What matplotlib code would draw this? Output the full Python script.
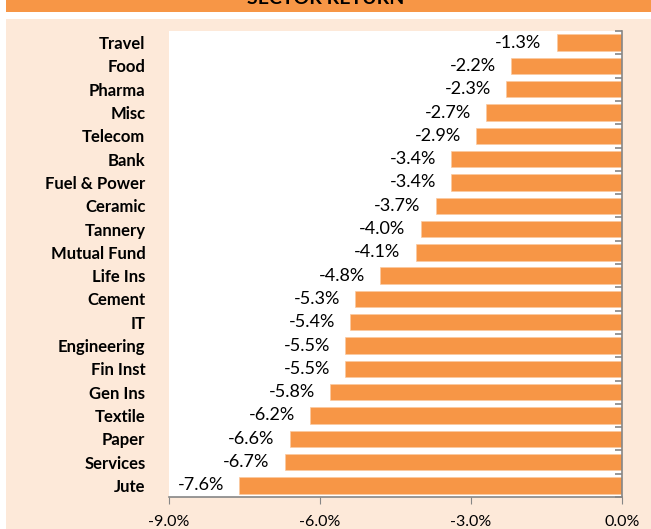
import matplotlib.pyplot as plt
from matplotlib.patches import Rectangle
from matplotlib.ticker import FuncFormatter
import numpy as np

sectors = ["Travel", "Food", "Pharma", "Misc", "Telecom", "Bank", "Fuel & Power",
           "Ceramic", "Tannery", "Mutual Fund", "Life Ins", "Cement", "IT",
           "Engineering", "Fin Inst", "Gen Ins", "Textile", "Paper", "Services", "Jute"]
returns = [-1.3, -2.2, -2.3, -2.7, -2.9, -3.4, -3.4, -3.7, -4.0, -4.1, -4.8,
           -5.3, -5.4, -5.5, -5.5, -5.8, -6.2, -6.6, -6.7, -7.6]
x_ticks = [-9, -6, -3, 0]

plt.rcParams['font.family'] = ['Lato', 'DejaVu Sans']

W, H = 651, 529
fig = plt.figure(figsize=(W / 100, H / 100), dpi=100)

# background blocks (pixel coords -> figure fraction), kept behind the axes
fig.patches.append(Rectangle((6 / W, 0), 1, 1 - 19 / H, transform=fig.transFigure,
                             facecolor='#FDE9D9', edgecolor='none', zorder=-10))
fig.patches.append(Rectangle((6 / W, 1 - 12 / H), 1, 12 / H, transform=fig.transFigure,
                             facecolor='#F79646', edgecolor='none', zorder=-10))
# title sits mostly above the top edge, as in the source image
fig.text(0.5, 1 - 4 / H, "SECTOR RETURN", ha='center', va='baseline',
         fontsize=14, fontweight='bold', color='black')

ax = fig.add_axes([169 / W, 1 - 497 / H, (622 - 169) / W, (497 - 31) / H])
ax.set_facecolor('white')

y = np.arange(len(sectors))
ax.barh(y, returns, height=0.7, color='#F79646', edgecolor='#FBC9A0', linewidth=0.5, zorder=2)

for yi, v in zip(y, returns):
    ax.text(v - 0.3, yi, f"{v:.1f}%", ha='right', va='center', fontsize=13, color='black')

ax.set_xlim(-9, 0)
ax.set_ylim(len(sectors) - 0.5, -0.5)
ax.set_xticks(x_ticks)
ax.xaxis.set_major_formatter(FuncFormatter(lambda v, p: f"{v:.1f}%"))
ax.tick_params(axis='x', length=5, color='#868686', labelsize=11.5, pad=8)

ax.set_yticks(y)
ax.set_yticklabels(sectors, fontweight='bold', fontsize=12)
ax.tick_params(axis='y', which='major', length=0, pad=17)
ax.set_yticks(np.arange(len(sectors) + 1) - 0.5, minor=True)
ax.tick_params(axis='y', which='minor', left=False, right=True, direction='in',
               length=5, color='#868686', width=1.2)

for s in ['top', 'left']:
    ax.spines[s].set_visible(False)
for s in ['bottom', 'right']:
    ax.spines[s].set_color('#868686')
    ax.spines[s].set_linewidth(1.2)

fig.savefig("out.png", dpi=100, facecolor='white')
